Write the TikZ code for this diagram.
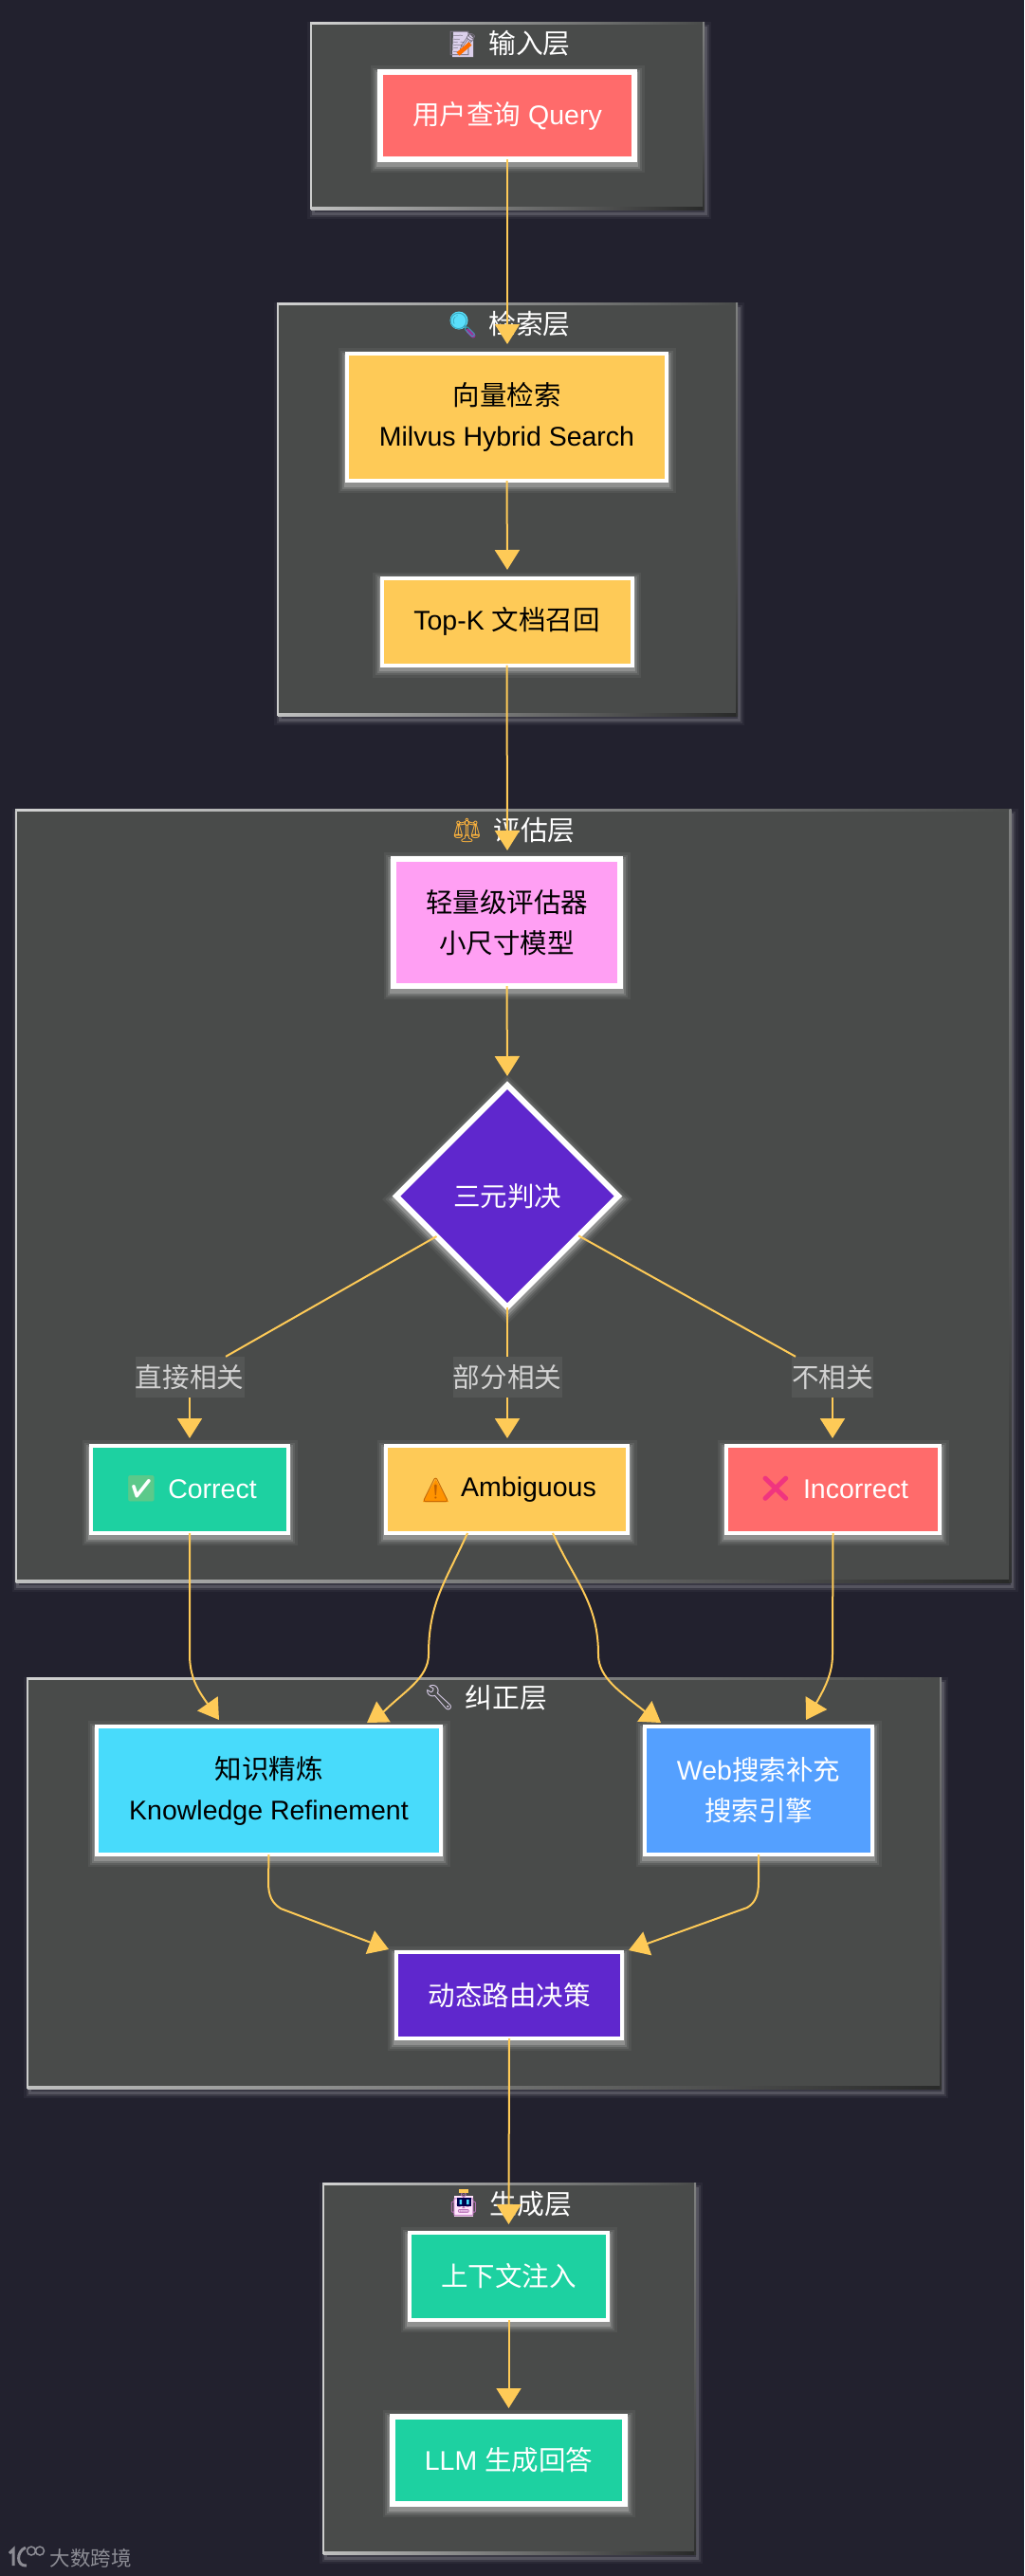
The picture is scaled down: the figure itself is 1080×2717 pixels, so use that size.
\documentclass[tikz,border=0pt]{standalone}
\usepackage{fontspec}
\setmainfont{Liberation Sans}
\newfontfamily\cjk{Noto Sans CJK SC}
\newfontfamily\emofont{Noto Emoji}
\usetikzlibrary{shapes.geometric,arrows.meta,calc}
\definecolor{bgc}{HTML}{22212E}
\definecolor{layerc}{HTML}{494B4A}
\definecolor{linec}{HTML}{FECA57}
\definecolor{redc}{HTML}{FF6B6B}
\definecolor{yelc}{HTML}{FECA57}
\definecolor{pinkc}{HTML}{FF9FF3}
\definecolor{purc}{HTML}{5F27CD}
\definecolor{grnc}{HTML}{1DD1A1}
\definecolor{cyanc}{HTML}{48DBFB}
\definecolor{bluec}{HTML}{54A0FF}
\definecolor{lilac}{HTML}{DCD0EC}
\definecolor{wmc}{HTML}{8C8C94}
\definecolor{checkc}{HTML}{5CC98A}
\newcommand{\zh}[1]{{\cjk #1}}
\tikzset{
  glow/.style={
    preaction={draw=white,draw opacity=.05,line width=#1+15pt,transform canvas={yshift=-3.5pt}},
    preaction={draw=white,draw opacity=.08,line width=#1+10pt,transform canvas={yshift=-3.5pt}},
    preaction={draw=white,draw opacity=.13,line width=#1+6pt,transform canvas={yshift=-3.5pt}},
    preaction={draw=white,draw opacity=.2,line width=#1+2pt,transform canvas={yshift=-3.5pt}}},
  layerglow/.style={
    preaction={draw=white,draw opacity=.04,line width=12pt,transform canvas={xshift=2pt,yshift=-5pt}},
    preaction={draw=white,draw opacity=.08,line width=7pt,transform canvas={xshift=2pt,yshift=-5pt}},
    preaction={draw=white,draw opacity=.14,line width=3pt,transform canvas={xshift=2pt,yshift=-5pt}}},
  box/.style n args={3}{draw=white,line width=#1,fill=#2,text=#3,inner sep=0pt,outer sep=0pt,align=center,
    font=\fontsize{28.5}{43}\selectfont,glow=#1},
  layerbox/.style={fill=layerc,inner sep=0pt,outer sep=0pt,layerglow},
  layertitle/.style={text=white,inner sep=0pt,font=\fontsize{28.8}{34}\selectfont},
  emo/.style={inner sep=0pt,font=\emofont\fontsize{#1}{#1}\selectfont},
  edgelab/.style={fill=white!6!layerc,text=white!75!layerc,inner sep=0pt,minimum height=43pt,font=\fontsize{28.6}{34}\selectfont},
  conn/.style={draw=linec,line width=2pt},
  arr/.style={conn,-{Triangle[length=21pt,width=26pt,fill=linec]}},
}
\begin{document}
\begin{tikzpicture}[x=1pt,y=-1pt]
\useasboundingbox (0,0) rectangle (1080,2717);
\fill[bgc] (0,0) rectangle (1080,2717);

% layers
\node[layerbox,minimum width=414pt,minimum height=196pt] (L1) at (535,122) {};
\node[layerbox,minimum width=484pt,minimum height=434pt] (L2) at (535,537) {};
\node[layerbox,minimum width=1049pt,minimum height=814pt] (L3) at (541,1261) {};
\node[layerbox,minimum width=963pt,minimum height=432pt] (L4) at (510.5,1986) {};
\node[layerbox,minimum width=392pt,minimum height=390pt] (L5) at (537,2498) {};
\foreach \l in {L1,L2,L3,L4,L5}{
  \shade[left color=white!75!layerc,right color=layerc] ($(\l.north west)+(0,-1)$) rectangle ($(\l.north east)+(0,1)$);
  \shade[left color=white!65!layerc,right color=black!45!layerc] ($(\l.south west)+(0,-1.5)$) rectangle ($(\l.south east)+(0,1)$);
  \fill[white!72!layerc] ($(\l.north west)+(-1,-1)$) rectangle ($(\l.south west)+(1.2,1)$);
  \shade[top color=white!30!layerc,bottom color=black!35!layerc] ($(\l.north east)+(-1,-1)$) rectangle ($(\l.south east)+(1,1)$);
}

% title icons: underlays and glyphs
\fill[lilac] (478,33) -- (492,33) -- (499,40) -- (499,60) -- (477,60) -- cycle;
\node[emo=25,text=black!45!lilac] (E1) at (488,46) {📝};
\draw[orange!85!red,line width=4.5pt] (483,57) -- (496,46);
\fill[cyanc!90!white] (484,338) circle (9.5pt);
\draw[violet!80!white,line width=5pt,line cap=round] (494,349) -- (499,354);
\node[emo=25,text=cyanc!75!black] (E2) at (488,343) {🔍};
\node[emo=25,text=yelc!70!orange] (E3) at (492.5,875.5) {⚖};
\node[emo=26,text=lilac] (E4) at (463,1791) {🔧};
\fill[white!72!pinkc] (479,2316) rectangle (499,2338);
\node[emo=25,text=white!45!violet] (E5) at (489,2325) {🤖};
\fill[black!70!blue] (482,2318) rectangle (497,2327);
\fill[cyanc] (484.5,2320) rectangle (487,2325) (492,2320) rectangle (494.5,2325);
\fill[yelc] (484,2309) rectangle (494,2313);

% titles
\node[layertitle] (T1) at (558.5,46) {\zh{输入层}};
\node[layertitle] (T2) at (558.5,342) {\zh{检索层}};
\node[layertitle] (T3) at (563.5,875.5) {\zh{评估层}};
\node[layertitle] (T4) at (534,1791) {\zh{纠正层}};
\node[layertitle] (T5) at (560,2325) {\zh{生成层}};

% nodes
\node[box={6pt}{redc}{white},minimum width=268pt,minimum height=92pt] (query) at (535,122) {\zh{用户查询} Query};
\node[box={4pt}{yelc}{black},minimum width=337pt,minimum height=134pt] (vec) at (534.5,440) {\zh{向量检索}\\Milvus Hybrid Search};
\node[box={4pt}{yelc}{black},minimum width=264pt,minimum height=92pt] (topk) at (534.5,655.5) {Top-K \zh{文档召回}};
\node[box={6pt}{pinkc}{black},minimum width=239pt,minimum height=134pt] (eval) at (534.5,973) {\zh{轻量级评估器}\\\zh{小尺寸模型}};
\node[diamond,aspect=1,box={6pt}{purc}{white},minimum width=234pt,minimum height=234pt] (tri) at (535,1261.5) {\zh{三元判决}};
\node[edgelab,minimum width=115pt] (labA) at (200,1452.5) {\zh{直接相关}};
\node[edgelab,minimum width=115pt] (labB) at (535,1452.5) {\zh{部分相关}};
\node[edgelab,minimum width=86pt] (labC) at (878,1452.5) {\zh{不相关}};
\node[box={4pt}{grnc}{white},minimum width=208pt,minimum height=92pt] (cor) at (200,1571) {\hspace*{48pt}Correct};
\node[box={4pt}{yelc}{black},minimum width=255pt,minimum height=92pt] (amb) at (534.5,1571) {\hspace*{46pt}Ambiguous};
\node[box={4pt}{redc}{white},minimum width=225pt,minimum height=92pt] (inc) at (878.5,1571) {\hspace*{48pt}Incorrect};
\node[box={4pt}{cyanc}{black},minimum width=363pt,minimum height=135pt] (kno) at (283.5,1888.5) {\zh{知识精炼}\\Knowledge Refinement};
\node[box={4pt}{bluec}{white},minimum width=240pt,minimum height=135pt] (web) at (800,1888.5) {Web\zh{搜索补充}\\\zh{搜索引擎}};
\node[box={4pt}{purc}{white},minimum width=238pt,minimum height=91pt] (dyn) at (537,2104.5) {\zh{动态路由决策}};
\node[box={4pt}{grnc}{white},minimum width=209pt,minimum height=92pt] (ctx) at (536.5,2401) {\zh{上下文注入}};
\node[box={6pt}{grnc}{white},minimum width=245pt,minimum height=92pt] (llm) at (536.5,2595) {LLM \zh{生成回答}};

% node icons
\fill[white] (139,1560) rectangle (159,1581);
\node[emo=27,text=checkc] (E6) at (149,1570.5) {✅};
\fill[orange!85!yellow] (459.5,1560) -- (473,1584) -- (446,1584) -- cycle;
\node[emo=25,text=black!25!orange] (E7) at (459.5,1572) {⚠};
\node[emo=27,text=magenta!55!redc] (E8) at (818,1570) {❌};

% free ends
\coordinate (inA) at (231,1814);
\coordinate (inB) at (387,1817);
\coordinate (inC) at (697,1817);
\coordinate (inD) at (850,1814);
\coordinate (inE) at (410,2056);
\coordinate (inF) at (663,2057);
\coordinate (inQ) at (535,363);
\coordinate (inV) at (535,601);
\coordinate (inT) at (535,897);
\coordinate (inEv) at (535,1135);
\coordinate (inCa) at (200,1517);
\coordinate (inCb) at (535,1517);
\coordinate (inCc) at (878,1517);
\coordinate (inD2) at (536.5,2346);
\coordinate (inL) at (536.5,2540);

% connectors
\draw[arr] (query.south) -- (inQ);
\draw[arr] (vec.south) -- (inV);
\draw[arr] (topk.south) -- (inT);
\draw[arr] (eval.south) -- (inEv);
\draw[conn] (tri) -- (labA);
\draw[conn] (tri) -- (labB);
\draw[conn] (tri) -- (labC);
\draw[arr] (labA.south) -- (inCa);
\draw[arr] (labB.south) -- (inCb);
\draw[arr] (labC.south) -- (inCc);
\draw[arr] (cor.south) -- (200,1745) .. controls (200,1768) and (208,1782) .. (219,1797) -- (inA);
\draw[arr] ($(amb.south)+(-41.5,0)$) .. controls (470,1668) and (452,1690) .. (452,1745) .. controls (452,1770) and (425,1785) .. (405,1805) -- (inB);
\draw[arr] ($(amb.south)+(48.5,0)$) .. controls (606,1668) and (631,1690) .. (631,1745) .. controls (631,1770) and (655,1785) .. (680,1805) -- (inC);
\draw[arr] (inc.south) -- (878,1745) .. controls (878,1765) and (870,1780) .. (861,1796) -- (inD);
\draw[arr] (kno.south) -- (283,1985) .. controls (283,2000) and (287,2007) .. (296,2013) -- (inE);
\draw[arr] (web.south) -- (800,1985) .. controls (800,2000) and (796,2007) .. (788,2012) -- (inF);
\draw[arr] (dyn.south) -- (inD2);
\draw[arr] (ctx.south) -- (inL);

% watermark
\node[text=wmc,inner sep=0pt,font=\fontsize{21.5}{24}\selectfont] (wm) at (95.5,2698) {\zh{大数跨境}};
\draw[wmc,line width=3pt] (10,2693) -- (14,2689) -- (14,2706);
\draw[wmc,line width=3pt] (27,2687) .. controls (17,2691) and (17,2707) .. (28,2706);
\draw[wmc,line width=1.5pt] (33,2690.5) circle (4.5pt) (42,2690.5) circle (4.5pt);
\end{tikzpicture}
\end{document}
